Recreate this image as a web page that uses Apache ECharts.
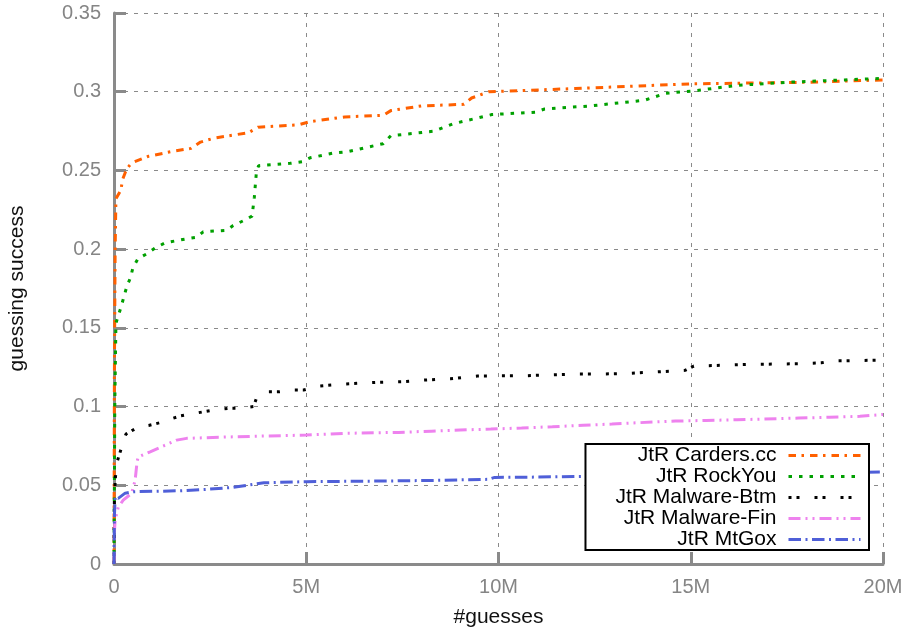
<!DOCTYPE html>
<html>
<head>
<meta charset="UTF-8">
<title>guessing success</title>
<script src="https://cdn.jsdelivr.net/npm/echarts@6/dist/echarts.min.js"></script>
</head>
<body style="margin:0">
<div id="main" style="width: 907px;height:632px;"></div>
<script type="text/javascript">
// x values are in millions of guesses
var seriesNames = ['JtR Carders.cc', 'JtR RockYou', 'JtR Malware-Btm', 'JtR Malware-Fin', 'JtR MtGox'];
var xTicks = [0, 5, 10, 15, 20];
var yTicks = [0, 0.05, 0.1, 0.15, 0.2, 0.25, 0.3, 0.35];

var carders = [[0,0],[0.01,0.12],[0.03,0.2],[0.05,0.232],[0.18,0.2375],[0.22,0.244],[0.33,0.251],[0.46,0.2548],
  [0.9,0.259],[1.5,0.262],[2.0,0.264],[2.25,0.268],[2.6,0.2705],[3.5,0.274],[3.75,0.2775],[4.8,0.279],[5.1,0.281],
  [6.0,0.284],[7.0,0.285],[7.2,0.288],[8.0,0.291],[9.1,0.292],[9.3,0.296],[9.75,0.300],[12,0.302],[15,0.305],
  [18,0.306],[20,0.3075]];
var rockyou = [[0,0],[0.02,0.1],[0.05,0.153],[0.18,0.163],[0.33,0.176],[0.43,0.182],[0.49,0.188],[0.625,0.194],
  [0.85,0.197],[1.07,0.2007],[1.33,0.204],[1.89,0.2066],[2.15,0.2075],[2.32,0.211],[2.93,0.212],[3.1,0.215],
  [3.36,0.218],[3.59,0.221],[3.65,0.233],[3.7,0.248],[3.76,0.253],[4.58,0.2545],[4.89,0.2555],[5.1,0.258],
  [5.7,0.261],[6.1,0.262],[7.0,0.267],[7.2,0.272],[8.33,0.275],[8.8,0.2795],[9.83,0.2855],[10.96,0.287],
  [11.2,0.289],[12.4,0.291],[13.8,0.2946],[14.35,0.299],[15.1,0.3006],[16.2,0.304],[17.5,0.306],[19,0.3075],
  [20,0.3085]];
var malwareBtm = [[0,0],[0.01,0.04],[0.03,0.053],[0.07,0.064],[0.24,0.0775],[0.31,0.0825],[0.63,0.087],[0.9,0.088],
  [1.24,0.09],[1.45,0.092],[1.72,0.094],[1.95,0.095],[2.33,0.0967],[2.6,0.0978],[2.98,0.0989],[3.25,0.0989],
  [3.63,0.1],[3.7,0.105],[4.02,0.1094],[4.3,0.1094],[4.7,0.1105],[4.93,0.1105],[5.3,0.113],[5.97,0.1143],
  [6.84,0.1154],[7.5,0.1158],[8.05,0.1168],[8.75,0.1177],[9.45,0.1194],[10.05,0.1196],[10.7,0.1196],[11.4,0.1202],
  [12.1,0.1207],[12.73,0.1207],[13.4,0.1211],[14.0,0.1219],[14.7,0.1228],[14.85,0.123],[15.08,0.1257],
  [16.56,0.1268],[17.8,0.1272],[18.4,0.1278],[18.65,0.129],[20,0.1295]];
var malwareFin = [[0,0],[0.01,0.02],[0.03,0.028],[0.11,0.036],[0.24,0.0406],[0.46,0.0449],[0.55,0.0533],[0.6,0.065],
  [0.63,0.068],[0.94,0.0713],[1.24,0.0745],[1.63,0.0787],[1.89,0.0798],[3.1,0.0808],[5.0,0.0819],[6.0,0.083],
  [7.4,0.0836],[8.25,0.0844],[9.0,0.0851],[9.8,0.0857],[10.6,0.0864],[11.4,0.0872],[12.2,0.0881],[12.95,0.0889],
  [13.6,0.0897],[14.6,0.0908],[15.4,0.0912],[16.2,0.0916],[17.8,0.0927],[18.6,0.0932],[19.4,0.0938],[20,0.095]];
var mtgox = [[0,0],[0.01,0.03],[0.03,0.0427],[0.11,0.0417],[0.29,0.045],[0.5,0.0459],[1.7,0.0465],[2.4,0.0474],
  [3.1,0.0487],[3.9,0.0516],[5.0,0.0523],[6.0,0.0525],[7.0,0.0527],[8.3,0.0531],[9.75,0.0538],[9.9,0.055],
  [11.0,0.0552],[12.0,0.0556],[20,0.0584]];

var colors = ['#ff6000', '#00a000', '#000000', '#ee82ee', '#4f5fd8'];
var dashes = [[7.5,5.5,2.5,6], [3.5,7], [3,5,3,15], [12,5,2,5,2,5], [12.5,4.5,2,4.5]];
var allData = [carders, rockyou, malwareBtm, malwareFin, mtgox];

var myChart = echarts.init(document.getElementById('main'));

var font = 'Liberation Sans, Helvetica, Arial, sans-serif';
var grey = '#8a8a8a';

var series = seriesNames.map(function (name, i) {
  return {
    name: name,
    type: 'line',
    data: allData[i],
    symbol: 'none',
    showSymbol: false,
    animation: false,
    lineStyle: { color: colors[i], width: 3, type: dashes[i] },
    itemStyle: { color: colors[i] }
  };
});

var option = {
  animation: false,
  grid: { left: 114, right: 24, top: 13, bottom: 68, containLabel: false, outerBoundsMode: 'none' },
  legend: {
    data: seriesNames,
    orient: 'vertical',
    align: 'right',
    right: 38,
    top: 444,
    padding: [1, 7, 0, 30],
    itemGap: 0,
    itemWidth: 72,
    itemHeight: 14,
    backgroundColor: '#ffffff',
    borderColor: '#000000',
    borderWidth: 2,
    borderRadius: 0,
    itemStyle: { opacity: 0 },
    lineStyle: { width: 3 },
    textStyle: { color: '#000', fontSize: 21, fontFamily: font, lineHeight: 21, padding: [0, 7, 0, 0] }
  },
  xAxis: {
    type: 'value',
    min: xTicks[0],
    max: xTicks[xTicks.length - 1],
    interval: 5,
    name: '#guesses',
    nameLocation: 'middle',
    nameGap: 43,
    nameTextStyle: { color: '#111', fontSize: 21, fontFamily: font },
    axisLine: { show: true, lineStyle: { color: grey, width: 3 } },
    axisTick: { show: true, inside: true, length: 12, lineStyle: { color: grey, width: 3 } },
    axisLabel: {
      color: '#858585', fontSize: 20, fontFamily: font, margin: 13,
      showMinLabel: true, showMaxLabel: true,
      formatter: function (v) { return v === 0 ? '0' : v + 'M'; }
    },
    splitLine: { show: true, lineStyle: { color: grey, width: 1, type: [4, 6] } }
  },
  yAxis: {
    type: 'value',
    min: yTicks[0],
    max: yTicks[yTicks.length - 1],
    interval: 0.05,
    name: 'guessing success',
    nameLocation: 'middle',
    nameRotate: 90,
    nameGap: 86,
    nameTextStyle: { color: '#111', fontSize: 21, fontFamily: font },
    axisLine: { show: true, lineStyle: { color: grey, width: 3 } },
    axisTick: { show: true, inside: true, length: 12, lineStyle: { color: grey, width: 3 } },
    axisLabel: {
      color: '#858585', fontSize: 20, fontFamily: font, margin: 13,
      showMinLabel: true, showMaxLabel: true,
      formatter: function (v) { return String(+v.toFixed(2)); }
    },
    splitLine: { show: true, lineStyle: { color: grey, width: 1, type: [4, 6] } }
  },
  series: series
};

myChart.setOption(option);
</script>
</body>
</html>
